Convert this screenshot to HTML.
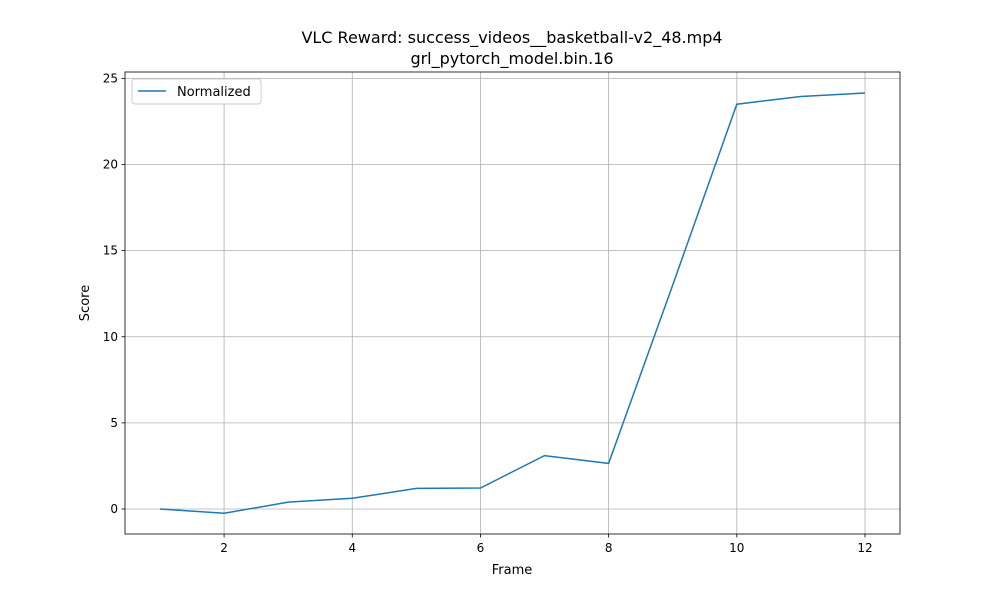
<!DOCTYPE html>
<html><head><meta charset="utf-8"><style>
body{margin:0;background:#fff;font-family:"Liberation Sans","DejaVu Sans",sans-serif}
svg text{font-family:"DejaVu Sans","Liberation Sans",sans-serif}
</style></head><body>
<svg id="chart" width="1000" height="600" xmlns="http://www.w3.org/2000/svg">
<rect width="1000" height="600" fill="#fff"/>
<text x="512" y="43" font-size="16" text-anchor="middle">VLC Reward: success_videos__basketball-v2_48.mp4</text>
<text x="512" y="64" font-size="16" text-anchor="middle">grl_pytorch_model.bin.16</text>
<g id="grid"></g>
<g id="ticks"></g>
<path id="line" fill="none" stroke="#1f77b4" stroke-width="1.5"/>
<rect x="125" y="72" width="775" height="462" fill="none" stroke="#000" stroke-width="0.8"/>
<text x="512" y="574" font-size="13" text-anchor="middle">Frame</text>
<text transform="translate(89,303) rotate(-90)" font-size="13" text-anchor="middle">Score</text>
<g>
<rect x="132" y="79" width="129" height="25" rx="3" fill="#fff" stroke="#ccc"/>
<line x1="138" y1="91" x2="166" y2="91" stroke="#1f77b4" stroke-width="1.5"/>
<text x="177" y="96" font-size="13">Normalized</text>
</g>
</svg>
<script>
const frames=[1,2,3,4,5,6,7,8,9,10,11,12];
const scores=[0,-0.25,0.4,0.62,1.2,1.22,3.1,2.65,13.0,23.5,23.95,24.15];
const xTicks=[2,4,6,8,10,12];
const yTicks=[0,5,10,15,20,25];
const L=125,R=900,T=72,B=534,xMin=0.454,xMax=12.546,yMin=-1.45,yMax=25.37;
const sx=v=>L+(v-xMin)/(xMax-xMin)*(R-L);
const sy=v=>B-(v-yMin)/(yMax-yMin)*(B-T);
const NS='http://www.w3.org/2000/svg';
const g=document.getElementById('grid'),tk=document.getElementById('ticks');
function mk(p,tag,a){const e=document.createElementNS(NS,tag);for(const k in a)e.setAttribute(k,a[k]);p.appendChild(e);return e;}
xTicks.forEach(v=>{const x=sx(v);
 const gl=mk(g,'line',{x1:x,x2:x,y1:T,y2:B,stroke:'#b0b0b0','stroke-width':0.8});
 
 mk(tk,'line',{x1:x,x2:x,y1:B,y2:B+3.5,stroke:'#000','stroke-width':0.8});
 const t=mk(tk,'text',{x:x,y:B+18,'font-size':12,'text-anchor':'middle'});t.textContent=v;
 });
yTicks.forEach(v=>{const y=sy(v);
 const gl=mk(g,'line',{x1:L,x2:R,y1:y,y2:y,stroke:'#b0b0b0','stroke-width':0.8});
 
 mk(tk,'line',{x1:L-3.5,x2:L,y1:y,y2:y,stroke:'#000','stroke-width':0.8});
 const t=mk(tk,'text',{x:L-7,y:y+4,'font-size':12,'text-anchor':'end'});t.textContent=v;
 });
document.getElementById('line').setAttribute('d',frames.map((f,i)=>(i?'L':'M')+sx(f).toFixed(1)+','+sy(scores[i]).toFixed(1)).join(''));
</script>
</body></html>
